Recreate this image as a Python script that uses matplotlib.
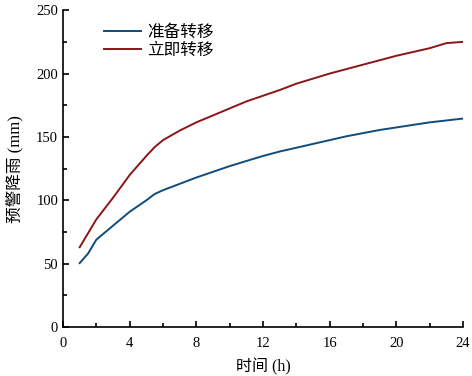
import matplotlib
matplotlib.use("Agg")
import matplotlib.pyplot as plt
from matplotlib.ticker import MultipleLocator

plt.rcParams['font.family'] = ['Liberation Serif', 'Noto Sans CJK SC']

# data
hours = [1, 1.5, 2, 3, 4, 5, 5.5, 6, 7, 8, 9, 10, 11, 12, 13, 14, 15, 16,
         17, 18, 19, 20, 21, 22, 23, 24]
prepare = [50.5, 58, 69, 80, 91, 100, 105, 108, 113, 118, 122.5, 127, 131,
           135, 138.5, 141.5, 144.5, 147.5, 150.5, 153, 155.5, 157.5, 159.5,
           161.5, 163, 164.5]
immediate = [63, 74, 85, 102, 120, 135, 142, 147.5, 155, 161.5, 167, 172.5,
             178, 182.5, 187, 192, 196, 200, 203.5, 207, 210.5, 214, 217,
             220, 224, 225]

fig = plt.figure(figsize=(4.72, 3.76), dpi=100)
ax = fig.add_axes([0.1335, 0.13, 0.8475, 0.843])

ax.plot(hours, prepare, color='#0f4c7c', lw=1.4, label='准备转移')
ax.plot(hours, immediate, color='#8c1515', lw=1.4, label='立即转移')

ax.set_xlim(0, 24)
ax.set_ylim(0, 250)
ax.xaxis.set_major_locator(MultipleLocator(4))
ax.xaxis.set_minor_locator(MultipleLocator(2))
ax.yaxis.set_major_locator(MultipleLocator(50))
ax.yaxis.set_minor_locator(MultipleLocator(25))
ax.tick_params(which='both', direction='in', labelsize=10.5, width=1.2)
ax.tick_params(which='major', length=4)
ax.tick_params(which='minor', length=3)
ax.tick_params(axis='x', pad=7)
for s in ['top', 'right']:
    ax.spines[s].set_visible(False)
for s in ['left', 'bottom']:
    ax.spines[s].set_linewidth(1.2)

ax.set_xlabel('时间 (h)', fontsize=11.5, labelpad=6)
ax.set_ylabel('预警降雨 (mm)', fontsize=12, labelpad=9)

ax.legend(loc='upper left', bbox_to_anchor=(0.065, 1.0), frameon=False,
          fontsize=12, handlelength=2.2, handletextpad=0.4, labelspacing=0.1)

fig.savefig('out.png', dpi=100)
